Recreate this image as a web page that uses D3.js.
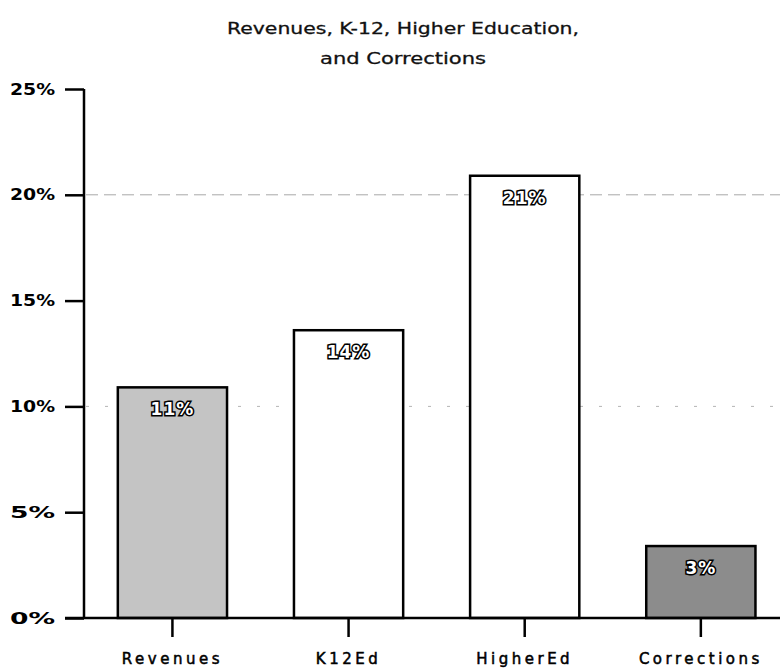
<!DOCTYPE html>
<html>
<head>
<meta charset="utf-8">
<script src="https://cdn.jsdelivr.net/npm/d3@7"></script>
<style>
  body { margin: 0; background: #fff; }
  text { font-family: "DejaVu Sans", Verdana, sans-serif; }
</style>
</head>
<body>
<div id="chart"></div>
<script>
// данные
const categories = ["Revenues", "K12Ed", "HigherEd", "Corrections"];
const values = [10.9, 13.6, 20.9, 3.4];
const valueLabels = ["11%", "14%", "21%", "3%"];
const fills = ["#c4c4c4", "#ffffff", "#ffffff", "#8c8c8c"];
const yTicks = [0, 5, 10, 15, 20, 25];
const gridValues = [10, 20];
const titleLines = ["Revenues, K-12, Higher Education,", "and Corrections"];

const width = 782, height = 668;

const svg = d3.select("#chart")
    .append("svg")
    .attr("width", width)
    .attr("height", height);

const x = d3.scaleBand()
    .domain(categories)
    .range([84, 778])
    .paddingInner(0.38)
    .paddingOuter(0.16)
    .align(0.6);

const y = d3.scaleLinear()
    .domain([0, 25])
    .range([618, 89]);

// заголовок
svg.append("g")
    .selectAll("text")
    .data(titleLines)
    .enter()
    .append("text")
    .attr("x", 403)
    .attr("y", (d, i) => 34 + i * 30)
    .attr("text-anchor", "middle")
    .attr("font-size", 16)
    .attr("textLength", (d, i) => i === 0 ? 352 : 166)
    .attr("lengthAdjust", "spacingAndGlyphs")
    .attr("fill", "#111")
    .attr("stroke", "#111")
    .attr("stroke-width", 0.3)
    .text(d => d);

// сетка
svg.append("g")
    .selectAll("line")
    .data(gridValues)
    .enter()
    .append("line")
    .attr("x1", 86)
    .attr("x2", 780)
    .attr("y1", d => y(d))
    .attr("y2", d => y(d))
    .attr("stroke", d => d === 20 ? "#a8a8a8" : "#b4b4b4")
    .attr("stroke-width", 1)
    .attr("stroke-dasharray", d => d === 20 ? "12,6" : "3,16");

// столбцы
const bars = svg.append("g")
    .selectAll("g")
    .data(categories)
    .enter()
    .append("g");

bars.append("rect")
    .attr("x", d => x(d))
    .attr("y", (d, i) => y(values[i]))
    .attr("width", x.bandwidth())
    .attr("height", (d, i) => y(0) - y(values[i]))
    .attr("fill", (d, i) => fills[i])
    .attr("stroke", "#000")
    .attr("stroke-width", 2.5);

bars.append("text")
    .attr("x", d => x(d) + x.bandwidth() / 2)
    .attr("y", (d, i) => y(values[i]) + 28)
    .attr("text-anchor", "middle")
    .attr("font-size", 17)
    .attr("font-weight", "bold")
    .attr("letter-spacing", 1)
    .attr("fill", "#fff")
    .attr("stroke", "#000")
    .attr("stroke-width", 3)
    .attr("paint-order", "stroke")
    .text((d, i) => valueLabels[i]);

// ось Y
const yAxis = svg.append("g")
    .attr("transform", "translate(84,0)")
    .call(d3.axisLeft(y).tickValues(yTicks).tickSize(19).tickPadding(10).tickFormat(d => d + "%"));

yAxis.select(".domain").attr("d", `M0,${y(25)}V${y(0)}`).attr("stroke-width", 2.5);
yAxis.selectAll(".tick line").attr("stroke-width", 2.5);
yAxis.selectAll(".tick text")
    .attr("font-size", 16)
    .attr("font-weight", "bold")
    .attr("font-family", "DejaVu Sans, sans-serif")
    .attr("fill", "#000")
    .attr("textLength", 45)
    .attr("lengthAdjust", "spacingAndGlyphs");

// ось X
const xAxis = svg.append("g")
    .attr("transform", `translate(0,${y(0)})`)
    .call(d3.axisBottom(x).tickSize(19).tickPadding(16));

xAxis.select(".domain").attr("d", "M65,0H780").attr("stroke-width", 2.5);
xAxis.selectAll(".tick line").attr("stroke-width", 2.5);
xAxis.selectAll(".tick text")
    .attr("font-size", 15)
    .attr("font-family", "DejaVu Sans, sans-serif")
    .attr("fill", "#000")
    .attr("stroke", "#000")
    .attr("stroke-width", 0.5)
    .attr("letter-spacing", 3.5);
</script>
</body>
</html>
